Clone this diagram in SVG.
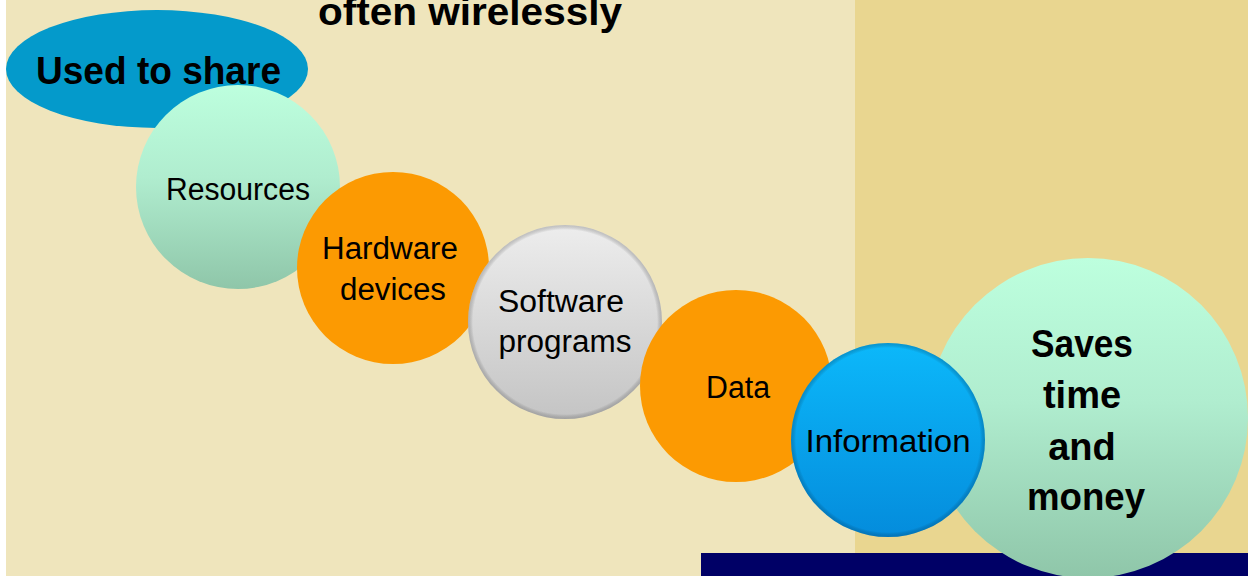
<svg xmlns="http://www.w3.org/2000/svg" width="1248" height="576" viewBox="0 0 1248 576">
  <defs>
    <linearGradient id="mint" x1="0" y1="0" x2="0" y2="1">
      <stop offset="0" stop-color="#BDFFDE"/>
      <stop offset="0.45" stop-color="#B0EDCF"/>
      <stop offset="1" stop-color="#8FC6A9"/>
    </linearGradient>
    <linearGradient id="blue" x1="0" y1="0" x2="0" y2="1">
      <stop offset="0" stop-color="#0CB8FA"/>
      <stop offset="1" stop-color="#048CDC"/>
    </linearGradient>
    <linearGradient id="grey" x1="0" y1="0" x2="0" y2="1">
      <stop offset="0" stop-color="#EDEDED"/>
      <stop offset="1" stop-color="#C4C4C4"/>
    </linearGradient>
    <radialGradient id="rimBlue" cx="0.5" cy="0.5" r="0.5">
      <stop offset="0.95" stop-color="#000" stop-opacity="0"/>
      <stop offset="1" stop-color="#00406A" stop-opacity="0.3"/>
    </radialGradient>
    <radialGradient id="rimGrey" cx="0.5" cy="0.5" r="0.5">
      <stop offset="0.95" stop-color="#000" stop-opacity="0"/>
      <stop offset="1" stop-color="#555" stop-opacity="0.3"/>
    </radialGradient>
  </defs>
  <style>
    .lbl { font-family: "Liberation Sans", Arial, sans-serif; font-size: 31px; fill: #000; text-anchor: middle; }
    .bold { font-family: "Liberation Sans", Arial, sans-serif; font-weight: bold; fill: #000; }
    .orange { fill: #FC9A02; }
  </style>

  <!-- background -->
  <rect x="0" y="0" width="1248" height="576" fill="#FFFFFF"/>
  <rect x="6" y="0" width="849" height="576" fill="#EFE5BC"/>
  <rect x="855" y="0" width="393" height="576" fill="#E9D690"/>
  <rect x="701" y="553" width="547" height="23" fill="#000066"/>

  <text class="bold" x="318" y="25" font-size="38" textLength="304" lengthAdjust="spacingAndGlyphs">often wirelessly</text>

  <g id="used-to-share">
    <ellipse cx="157" cy="69" rx="151" ry="59" fill="#049ACB"/>
    <text class="bold" x="36" y="84" font-size="39" textLength="245" lengthAdjust="spacingAndGlyphs">Used to share</text>
  </g>

  <g id="connectors"></g>

  <g id="resources">
    <circle cx="238" cy="187" r="102" fill="url(#mint)"/>
    <text class="lbl" x="238" y="200" textLength="144" lengthAdjust="spacingAndGlyphs">Resources</text>
  </g>

  <g id="hardware">
    <circle cx="393" cy="268" r="96" class="orange"/>
    <text class="lbl" x="390" y="259" textLength="136" lengthAdjust="spacingAndGlyphs">Hardware</text>
    <text class="lbl" x="393" y="300" textLength="106" lengthAdjust="spacingAndGlyphs">devices</text>
  </g>

  <g id="software">
    <circle cx="565" cy="322" r="97" fill="url(#grey)"/>
    <circle cx="565" cy="322" r="97" fill="url(#rimGrey)"/>
    <text class="lbl" x="561" y="312" textLength="126" lengthAdjust="spacingAndGlyphs">Software</text>
    <text class="lbl" x="565" y="352" textLength="133" lengthAdjust="spacingAndGlyphs">programs</text>
  </g>

  <g id="data">
    <circle cx="736" cy="386" r="96" class="orange"/>
    <text class="lbl" x="738" y="398" textLength="64" lengthAdjust="spacingAndGlyphs">Data</text>
  </g>

  <g id="saves">
    <circle cx="1088" cy="418" r="160" fill="url(#mint)"/>
    <text class="bold" x="1082" y="357" font-size="38" text-anchor="middle" textLength="102" lengthAdjust="spacingAndGlyphs">Saves</text>
    <text class="bold" x="1082" y="408" font-size="38" text-anchor="middle">time</text>
    <text class="bold" x="1082" y="460" font-size="38" text-anchor="middle">and</text>
    <text class="bold" x="1086" y="510" font-size="38" text-anchor="middle" textLength="118" lengthAdjust="spacingAndGlyphs">money</text>
  </g>

  <g id="information">
    <circle cx="888" cy="440" r="97" fill="url(#blue)"/>
    <circle cx="888" cy="440" r="97" fill="url(#rimBlue)"/>
    <text class="lbl" x="888" y="452" textLength="165" lengthAdjust="spacingAndGlyphs">Information</text>
  </g>
</svg>
